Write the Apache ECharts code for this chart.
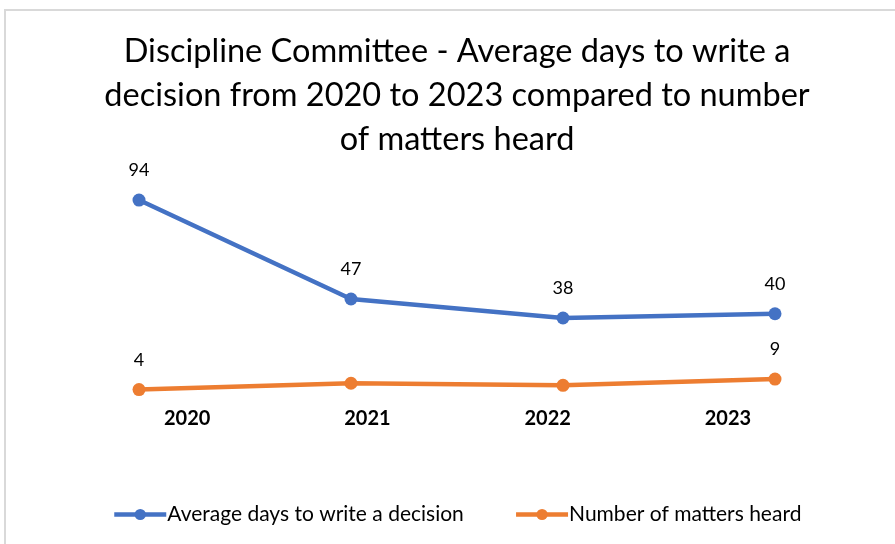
<!DOCTYPE html>
<html><head><meta charset="utf-8">
<script src="https://cdn.jsdelivr.net/npm/echarts@6/dist/echarts.min.js"></script>
<style>
html,body{margin:0;padding:0;background:#fff;}
#frame{position:absolute;left:4px;top:9px;width:900px;height:540px;border-left:2px solid #d9d9d9;border-top:2px solid #d9d9d9;}
#c{position:absolute;left:0;top:0;width:895px;height:544px;}
</style></head>
<body>
<div id="frame"></div>
<div id="c"></div>
<script>
const categories = ['2020','2021','2022','2023'];
const avgDays = [94, 47, 38, 40];
const mattersHeard = [4, 7, 6, 9];
const mattersLabelShown = [true, false, false, true];
const titleText = 'Discipline Committee - Average days to write a\ndecision from 2020 to 2023 compared to number\nof matters heard';

const FONT = 'Lato';
const chart = echarts.init(document.getElementById('c'), null, {renderer:'canvas'});
chart.setOption({
  backgroundColor: 'transparent',
  animation: false,
  title: {
    text: titleText, left: 452, textAlign: 'center', top: 25,
    textStyle: {fontFamily: FONT, fontSize: 32.5, fontWeight: 'normal', color: '#000', lineHeight: 44, align: 'center'}
  },
  legend: {
    bottom: 14, left: 107, itemWidth: 52, itemHeight: 14, itemGap: 50,
    lineStyle: {width: 4.5},
    textStyle: {fontFamily: FONT, fontSize: 21, color: '#000', padding: [0,0,0,-4]},
    data: ['Average days to write a decision','Number of matters heard']
  },
  grid: [
    {left: 33, right: 14, top: 187.4, bottom: 146},
    {left: 97, right: 77, top: 187.4, bottom: 146}
  ],
  xAxis: [
    {
      type: 'category', data: categories, boundaryGap: true, gridIndex: 0,
      axisLine: {show: false}, axisTick: {show: false}, axisLabel: {show: false}
    },
    {
      type: 'category', data: categories, boundaryGap: true, gridIndex: 1,
      axisLine: {show: false}, axisTick: {show: false},
      axisLabel: {fontFamily: FONT, fontSize: 20, fontWeight: 'bold', color: '#000', margin: 11}
    }
  ],
  yAxis: [
    {type: 'value', min: 0, max: 100, show: false, splitLine: {show: false}, gridIndex: 0},
    {type: 'value', min: 0, max: 100, show: false, splitLine: {show: false}, gridIndex: 1}
  ],
  series: [
    {
      name: 'Average days to write a decision', type: 'line', data: avgDays,
      color: '#4472C4', symbol: 'circle', symbolSize: 13,
      lineStyle: {width: 4.5, color: '#4472C4'}, itemStyle: {color: '#4472C4'},
      label: {show: true, position: 'top', distance: 14, fontFamily: FONT, fontSize: 18, color: '#000'}
    },
    {
      name: 'Number of matters heard', type: 'line',
      data: mattersHeard.map((v,i) => ({value: v, label: {show: mattersLabelShown[i]}})),
      color: '#ED7D31', symbol: 'circle', symbolSize: 13,
      lineStyle: {width: 4.5, color: '#ED7D31'}, itemStyle: {color: '#ED7D31'},
      label: {show: true, position: 'top', distance: 14, fontFamily: FONT, fontSize: 18, color: '#000'}
    }
  ]
});
</script>
</body></html>
